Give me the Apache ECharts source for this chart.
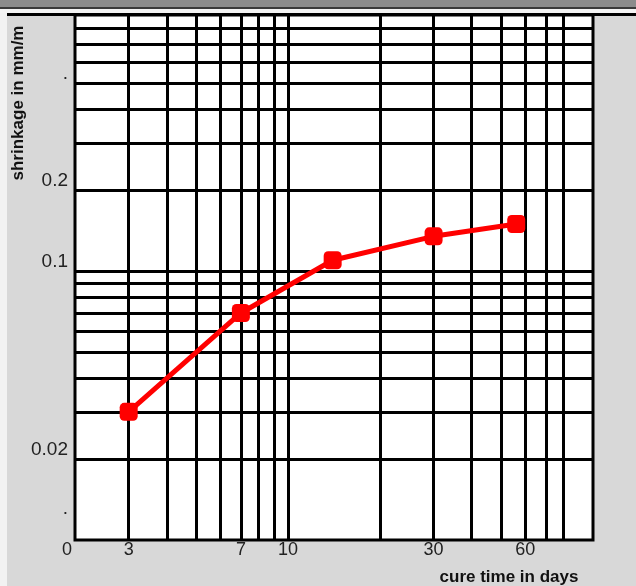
<!DOCTYPE html>
<html>
<head>
<meta charset="utf-8">
<script src="https://cdn.jsdelivr.net/npm/echarts@6/dist/echarts.min.js"></script>
<style>
  html, body { margin: 0; padding: 0; background: #d8d8d8; }
  #chart { width: 636px; height: 586px; }
</style>
</head>
<body>
<div id="chart"></div>
<script>
// cure time (days) vs shrinkage (mm/m), log-log paper
const days = [3, 7, 14, 30, 56]
const shrinkage = [0.03, 0.07, 0.11, 0.135, 0.15]

// log paper grid lines (borders are the axis min / max)
const xGrid = [3, 4, 5, 6, 7, 8, 9, 10, 20, 30, 40, 50, 60, 70, 80]
const yGrid = [0.02, 0.03, 0.04, 0.05, 0.06, 0.07, 0.08, 0.09, 0.1, 0.2, 0.3, 0.4, 0.5, 0.6, 0.7, 0.8]

// tick labels as printed on the sheet
const xTicks = [2, 3, 7, 10, 30, 60]
const xTickLabels = ['0', '3', '7', '10', '30', '60']
const yTicks = [0.012, 0.02, 0.1, 0.2, 0.5]
const yTickLabels = ['.', '0.02', '0.1', '0.2', '.']

const font = '"Liberation Sans", Arial, sans-serif'

const chart = echarts.init(document.getElementById('chart'))
chart.setOption({
  animation: false,
  backgroundColor: '#d8d8d8',
  grid: { left: 75, right: 43, top: 15, bottom: 46, show: true, backgroundColor: '#fff', borderColor: '#000', borderWidth: 3 },
  xAxis: { type: 'log', logBase: 10, min: 2, max: 100, axisLine: { show: false }, axisTick: { show: false }, axisLabel: { show: false }, splitLine: { show: false } },
  yAxis: { type: 'log', logBase: 10, min: 0.01, max: 0.9, axisLine: { show: false }, axisTick: { show: false }, axisLabel: { show: false }, splitLine: { show: false } },
  graphic: [
    { type: 'rect', left: 0, top: 0, shape: { width: 636, height: 7 }, style: { fill: '#8c8c8c' }, z: 10 },
    { type: 'rect', left: 0, top: 7, shape: { width: 636, height: 2 }, style: { fill: '#3a3a3a' }, z: 10 },
    { type: 'rect', left: 0, top: 9, shape: { width: 636, height: 4 }, style: { fill: '#f4f4f4' }, z: 10 },
    { type: 'rect', left: 7, top: 13, shape: { width: 629, height: 3 }, style: { fill: '#000' }, z: 10 },
    { type: 'rect', left: 0, top: 13, shape: { width: 7, height: 573 }, style: { fill: '#f2f2f2' }, z: 10 },
    { type: 'text', x: 18, y: 103, rotation: Math.PI / 2, style: { text: 'shrinkage in mm/m', font: 'bold 17px ' + font, fill: '#111', align: 'center', verticalAlign: 'middle' }, z: 10 },
    { type: 'text', x: 509, y: 577, style: { text: 'cure time in days', font: 'bold 17px ' + font, fill: '#111', align: 'center', verticalAlign: 'middle' }, z: 10 },
  ],
  series: [
    {
      type: 'line', data: [], z: 1, silent: true,
      markLine: {
        silent: true, symbol: ['none', 'none'], animation: false, precision: 4,
        lineStyle: { color: '#000', width: 3, type: 'solid' },
        label: { show: false },
        data: xGrid.map(v => ({ xAxis: v })).concat(yGrid.map(v => ({ yAxis: v }))),
      },
    },
    {
      type: 'line', data: [], z: 1, silent: true,
      markLine: {
        silent: true, symbol: ['none', 'none'], animation: false, precision: 4,
        lineStyle: { color: 'rgba(0,0,0,0)', width: 1 },
        data: xTicks.map((v, i) => ({
          xAxis: v,
          label: { show: true, position: 'start', distance: 1, formatter: xTickLabels[i], color: '#222', fontSize: 18, fontFamily: font, padding: v === 2 ? [0, 16, 0, 0] : 0 },
        })).concat(yTicks.map((v, i) => ({
          yAxis: v,
          label: { show: true, position: 'start', distance: 7, formatter: yTickLabels[i], color: '#222', fontSize: 19, fontFamily: font, verticalAlign: 'bottom' },
        }))),
      },
    },
    {
      type: 'line', z: 5,
      data: days.map((d, i) => [d, shrinkage[i]]),
      lineStyle: { color: '#ff0000', width: 5 },
      itemStyle: { color: '#ff0000' },
      symbol: 'roundRect', symbolSize: 18, showSymbol: true,
    },
  ],
})
</script>
</body>
</html>
